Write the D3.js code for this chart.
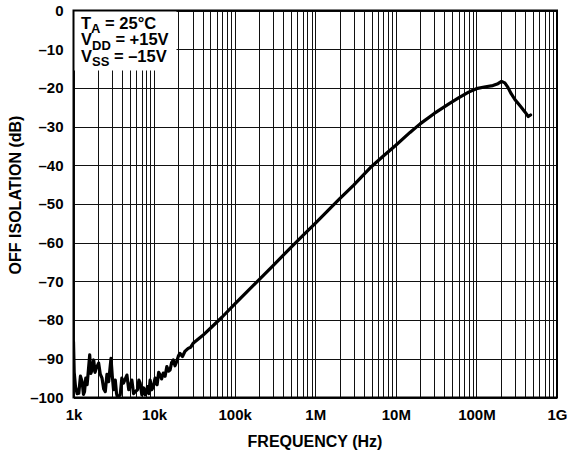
<!DOCTYPE html>
<html>
<head>
<meta charset="utf-8">
<script src="https://cdn.jsdelivr.net/npm/d3@7"></script>
<style>
  html, body { margin: 0; padding: 0; background: #fff; }
  svg { display: block; font-family: "Liberation Sans", Arial, sans-serif; font-weight: bold; }
</style>
</head>
<body>
<svg id="chart" width="570" height="454"></svg>
<script>
// Off isolation vs. frequency (TA = 25°C, VDD = +15V, VSS = –15V)
const freqHz = [
  1000, 1020, 1058, 1110, 1163, 1220, 1280, 1330, 1370, 1420, 1476, 1530, 1589, 1640, 1700, 1780,
  1850, 1920, 2050, 2150, 2260, 2370, 2480, 2600, 2730, 2920, 3030, 3140, 3300, 3420, 3520, 3800,
  3980, 4170, 4600, 4850, 5060, 5300, 5560, 5830, 6220, 6480, 6720, 7050, 7400, 7760, 8280, 8600,
  8930, 9350, 9790, 10300, 10900, 11400, 11900, 12400, 13000, 13700, 14400, 15100, 15800, 16500,
  17300, 18200, 19100, 20000, 20900, 22500, 24100, 26500, 28500, 30500,
  40e3, 50e3, 70e3, 100e3, 150e3, 200e3, 300e3, 500e3, 700e3,
  1e6, 2e6, 3e6, 5e6, 7e6, 10e6, 15e6, 20e6, 30e6, 45e6, 60e6, 80e6,
  100e6, 130e6, 160e6, 185e6, 205e6, 225e6, 245e6, 270e6, 300e6, 350e6, 400e6, 440e6, 470e6
];
const isolationDb = [
  -85.6, -93.5, -97.2, -99.0, -98.9, -94.5, -95.9, -99.2, -98.5, -95.0, -96.7, -93.0, -89.0, -93.8, -92.9, -90.3,
  -93.5, -92.4, -91.1, -94.0, -95.0, -97.8, -98.5, -94.0, -95.9, -89.9, -94.5, -98.0, -95.5, -99.0, -100, -99.3,
  -95.0, -96.3, -94.2, -98.0, -97.2, -95.5, -99.0, -98.5, -98.0, -95.5, -96.3, -99.3, -97.5, -99.3, -97.2, -99.0,
  -95.5, -98.0, -97.2, -95.0, -96.7, -93.5, -94.2, -95.2, -93.7, -94.5, -92.0, -93.2, -92.9, -91.0,
  -90.3, -91.8, -90.7, -89.3, -88.6, -89.4, -88.1, -87.3, -87.0, -86.0,
  -84.0, -82.1, -79.2, -75.9, -72.2, -69.6, -65.9, -61.2, -58.2,
  -55.0, -48.7, -45.1, -40.3, -37.6, -34.8, -31.5, -29.3, -26.6, -24.2, -22.6, -21.1,
  -20.2, -19.7, -19.4, -18.9, -18.3, -18.7, -19.8, -21.5, -23.0, -24.7, -26.2, -27.4, -27.0
];

const xTickValues = [1e3, 1e4, 1e5, 1e6, 1e7, 1e8, 1e9];
const xTickLabels = ["1k", "10k", "100k", "1M", "10M", "100M", "1G"];
const yTickValues = [0, -10, -20, -30, -40, -50, -60, -70, -80, -90, -100];

const conditions = [
  { main: "T", sub: "A", rest: " = 25°C" },
  { main: "V", sub: "DD", rest: " = +15V" },
  { main: "V", sub: "SS", rest: " = –15V" }
];

const svg = d3.select("#chart");
const plotLeft = 73.5, plotRight = 557, plotTop = 10.5, plotBottom = 397.5;

const x = d3.scaleLog().domain([1e3, 1e9]).range([plotLeft, plotRight]);
const y = d3.scaleLinear().domain([-100, 0]).range([plotBottom, plotTop]);

// log grid: minor lines 2..9 and decade lines
const minorFreqs = [];
for (let d = 3; d < 9; d++) {
  for (let m = 1; m <= 9; m++) minorFreqs.push(m * Math.pow(10, d));
}
minorFreqs.push(1e9);

const grid = svg.append("g").attr("shape-rendering", "crispEdges");
grid.selectAll("line.v").data(minorFreqs).join("line")
  .attr("class", "v")
  .attr("x1", d => Math.round(x(d)) + 0.5).attr("x2", d => Math.round(x(d)) + 0.5)
  .attr("y1", plotTop).attr("y2", plotBottom)
  .attr("stroke", "#111").attr("stroke-width", 1);
grid.selectAll("line.h").data(yTickValues).join("line")
  .attr("class", "h")
  .attr("x1", plotLeft).attr("x2", plotRight)
  .attr("y1", d => Math.round(y(d)) + 0.5).attr("y2", d => Math.round(y(d)) + 0.5)
  .attr("stroke", "#111").attr("stroke-width", 1);

// clip the trace to the plot area
svg.append("defs").append("clipPath").attr("id", "plotClip")
  .append("rect").attr("x", plotLeft).attr("y", plotTop)
  .attr("width", plotRight - plotLeft).attr("height", plotBottom - plotTop);

const line = d3.line()
  .x((d, i) => x(freqHz[i]))
  .y(d => y(d));

svg.append("path")
  .attr("clip-path", "url(#plotClip)")
  .attr("d", line(isolationDb))
  .attr("fill", "none")
  .attr("stroke", "#000")
  .attr("stroke-width", 3.2)
  .attr("stroke-linejoin", "round")
  .attr("stroke-linecap", "round");

// condition box over the grid
svg.append("rect")
  .attr("x", plotLeft).attr("y", plotTop)
  .attr("width", 103).attr("height", 60)
  .attr("fill", "#fff");

const cond = svg.append("g").attr("font-size", 16.5).attr("fill", "#000");
conditions.forEach((c, i) => {
  const t = cond.append("text")
    .attr("x", 81).attr("y", 28.5 + i * 16.7);
  t.append("tspan").text(c.main);
  t.append("tspan").attr("font-size", 13).attr("dy", 4.5).text(c.sub);
  t.append("tspan").attr("dy", -4.5).text(c.rest);
});

// plot frame
svg.append("rect")
  .attr("x", plotLeft).attr("y", plotTop)
  .attr("width", plotRight - plotLeft).attr("height", plotBottom - plotTop)
  .attr("fill", "none").attr("stroke", "#000").attr("stroke-width", 2);

// axes
const xAxis = d3.axisBottom(x)
  .tickValues(xTickValues)
  .tickFormat((d, i) => xTickLabels[i])
  .tickSize(0).tickPadding(12);
const gx = svg.append("g").attr("transform", `translate(0,${plotBottom})`).call(xAxis);
gx.select(".domain").remove();
gx.selectAll("text").attr("font-size", 15).attr("font-family", null).attr("fill", "#000");

const yAxis = d3.axisLeft(y)
  .tickValues(yTickValues)
  .tickFormat(d => d === 0 ? "0" : "–" + Math.abs(d))
  .tickSize(0).tickPadding(10);
const gy = svg.append("g").attr("transform", `translate(${plotLeft},0)`).call(yAxis);
gy.select(".domain").remove();
gy.selectAll("text").attr("font-size", 15).attr("font-family", null).attr("fill", "#000");

// axis titles
svg.append("text")
  .attr("x", 315).attr("y", 447)
  .attr("text-anchor", "middle")
  .attr("font-size", 16)
  .text("FREQUENCY (Hz)");

svg.append("text")
  .attr("transform", "translate(21,195) rotate(-90)")
  .attr("text-anchor", "middle")
  .attr("font-size", 16)
  .text("OFF ISOLATION (dB)");
</script>
</body>
</html>
